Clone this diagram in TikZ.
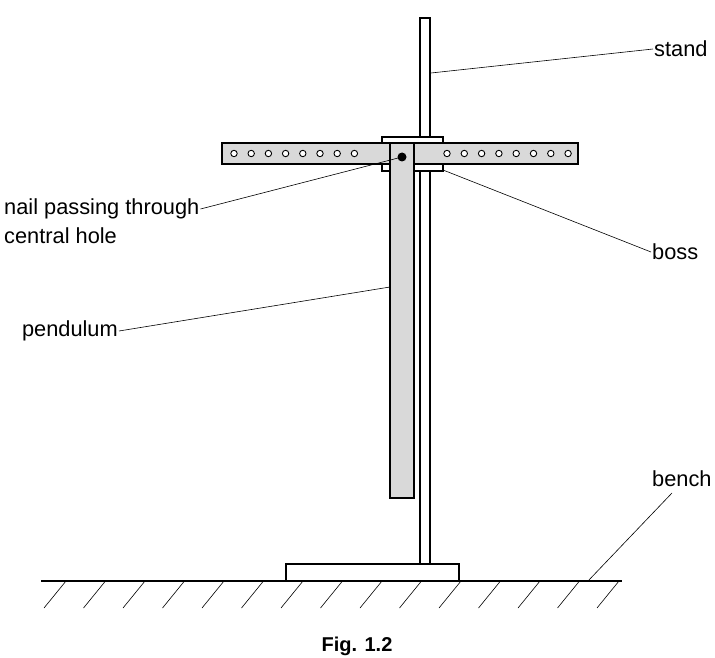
\documentclass[tikz,border=0pt]{standalone}
\usepackage{fontspec}
\setmainfont{Liberation Sans}
\usetikzlibrary{calc}
\definecolor{partgrey}{gray}{0.85}
\tikzset{
	part/.style={draw, line width=1.2pt, fill=partgrey},
	leader/.style={line width=0.6pt},
	lbl/.style={font=\fontsize{21.8}{26}\selectfont, inner sep=1pt},
}

\begin{document}
\begin{tikzpicture}[x=1pt,y=-1pt]
	\useasboundingbox (0,0) rectangle (715,658);

	% bench and hatching
	\draw[line width=1.2pt] (41,581) -- (622,581);
	\foreach \i in {0,...,14}
		\draw[leader] ($(66,581)+(\i*39.5,0)$) -- ++(-22,27);
	\draw[line width=1.2pt, fill=white] (286,564) rectangle (459,581);

	% stand
	\draw[line width=1.2pt, fill=white] (420,18) rectangle (430,564);
	\draw[line width=1.2pt, fill=white] (382,137) rectangle (443,171);
	\draw[part] (222,143) rectangle (578,164);
	\foreach \i in {0,...,7} {
		\draw[line width=0.9pt, fill=white] (234+\i*17.2,153.5) circle (3.2);
		\draw[line width=0.9pt, fill=white] (447+\i*17.3,153.5) circle (3.2);
	}
	\draw[part] (390,143) rectangle (414,498);
	\coordinate (nail) at (402,157);
	\fill (nail) circle (4.5);

	% labels
	\node[lbl, anchor=west] (stand) at (653,49) {stand};
	\node[lbl, anchor=west] (nailtxt) at (3,209) {nail passing through};
	\node[lbl, anchor=west] (nailtxt2) at (3,236) {central hole};
	\node[lbl, anchor=west] (boss) at (651,252) {boss};
	\node[lbl, anchor=east] (pend) at (119,331) {pendulum};
	\node[lbl, anchor=west] (bench) at (651,479) {bench};
	\node[font=\bfseries\fontsize{20}{24}\selectfont, anchor=base] (fig) at (357,651) {Fig. 1.2};

	\coordinate (standpt) at (431,73);
	\coordinate (bosspt) at (443,170);
	\coordinate (pendpt) at (390,287);
	\coordinate (benchpt) at (588,581);
	\coordinate (benchend) at (672,493);
	\draw[leader] (stand.west) -- (standpt);
	\draw[leader] (nailtxt.east) -- (nail);
	\draw[leader] (boss.west) -- (bosspt);
	\draw[leader] (pend.east) -- (pendpt);
	\draw[leader] (benchend) -- (benchpt);
\end{tikzpicture}
\end{document}
